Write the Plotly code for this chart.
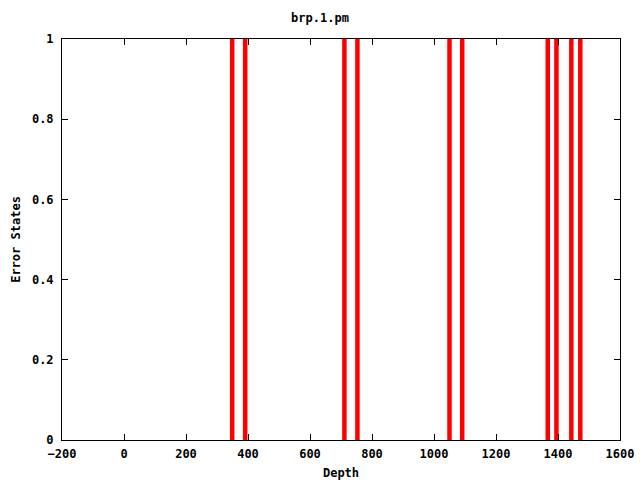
import plotly.graph_objects as go

depths = [349, 391, 711, 753, 1050, 1091, 1367, 1395, 1443, 1472]
states = [1, 1, 1, 1, 1, 1, 1, 1, 1, 1]

xs, ys = [], []
for d, s in zip(depths, states):
    xs += [d, d, None]
    ys += [0, s, None]

fig = go.Figure()
fig.add_trace(go.Scatter(x=xs, y=ys, mode="lines",
                         line=dict(color="#ff0000", width=4.5),
                         showlegend=False, hoverinfo="skip"))

font = dict(family="DejaVu Sans Mono", size=12, color="black", weight="bold")
fig.update_layout(
    width=640, height=480,
    paper_bgcolor="white", plot_bgcolor="white",
    margin=dict(l=62, r=20, t=39, b=40, autoexpand=False),
    title=dict(text="brp.1.pm", x=0.5, xanchor="center", y=1 - 18/480, yanchor="middle", font=font),
    font=font,
    xaxis=dict(range=[-200, 1600], tickvals=list(range(-200, 1601, 200)),
               showgrid=False, zeroline=False, showline=True, linecolor="black", linewidth=1,
               mirror="ticks", ticks="inside", ticklen=6, tickcolor="black", automargin=False,
               ticklabelstandoff=3,
               title=dict(text="Depth", font=font, standoff=8), tickfont=font),
    yaxis=dict(range=[0, 1], tickvals=[0, 0.2, 0.4, 0.6, 0.8, 1],
               ticktext=["0", "0.2", "0.4", "0.6", "0.8", "1"],
               showgrid=False, zeroline=False, showline=True, linecolor="black", linewidth=1,
               mirror="ticks", ticks="inside", ticklen=6, tickcolor="black", automargin=False,
               ticklabelstandoff=5,
               title=dict(text="Error States", font=font, standoff=8), tickfont=font),
)
fig.write_html("out.html", config={"displayModeBar": False},
               post_script="document.body.style.margin='0';document.body.style.overflow='hidden';")
